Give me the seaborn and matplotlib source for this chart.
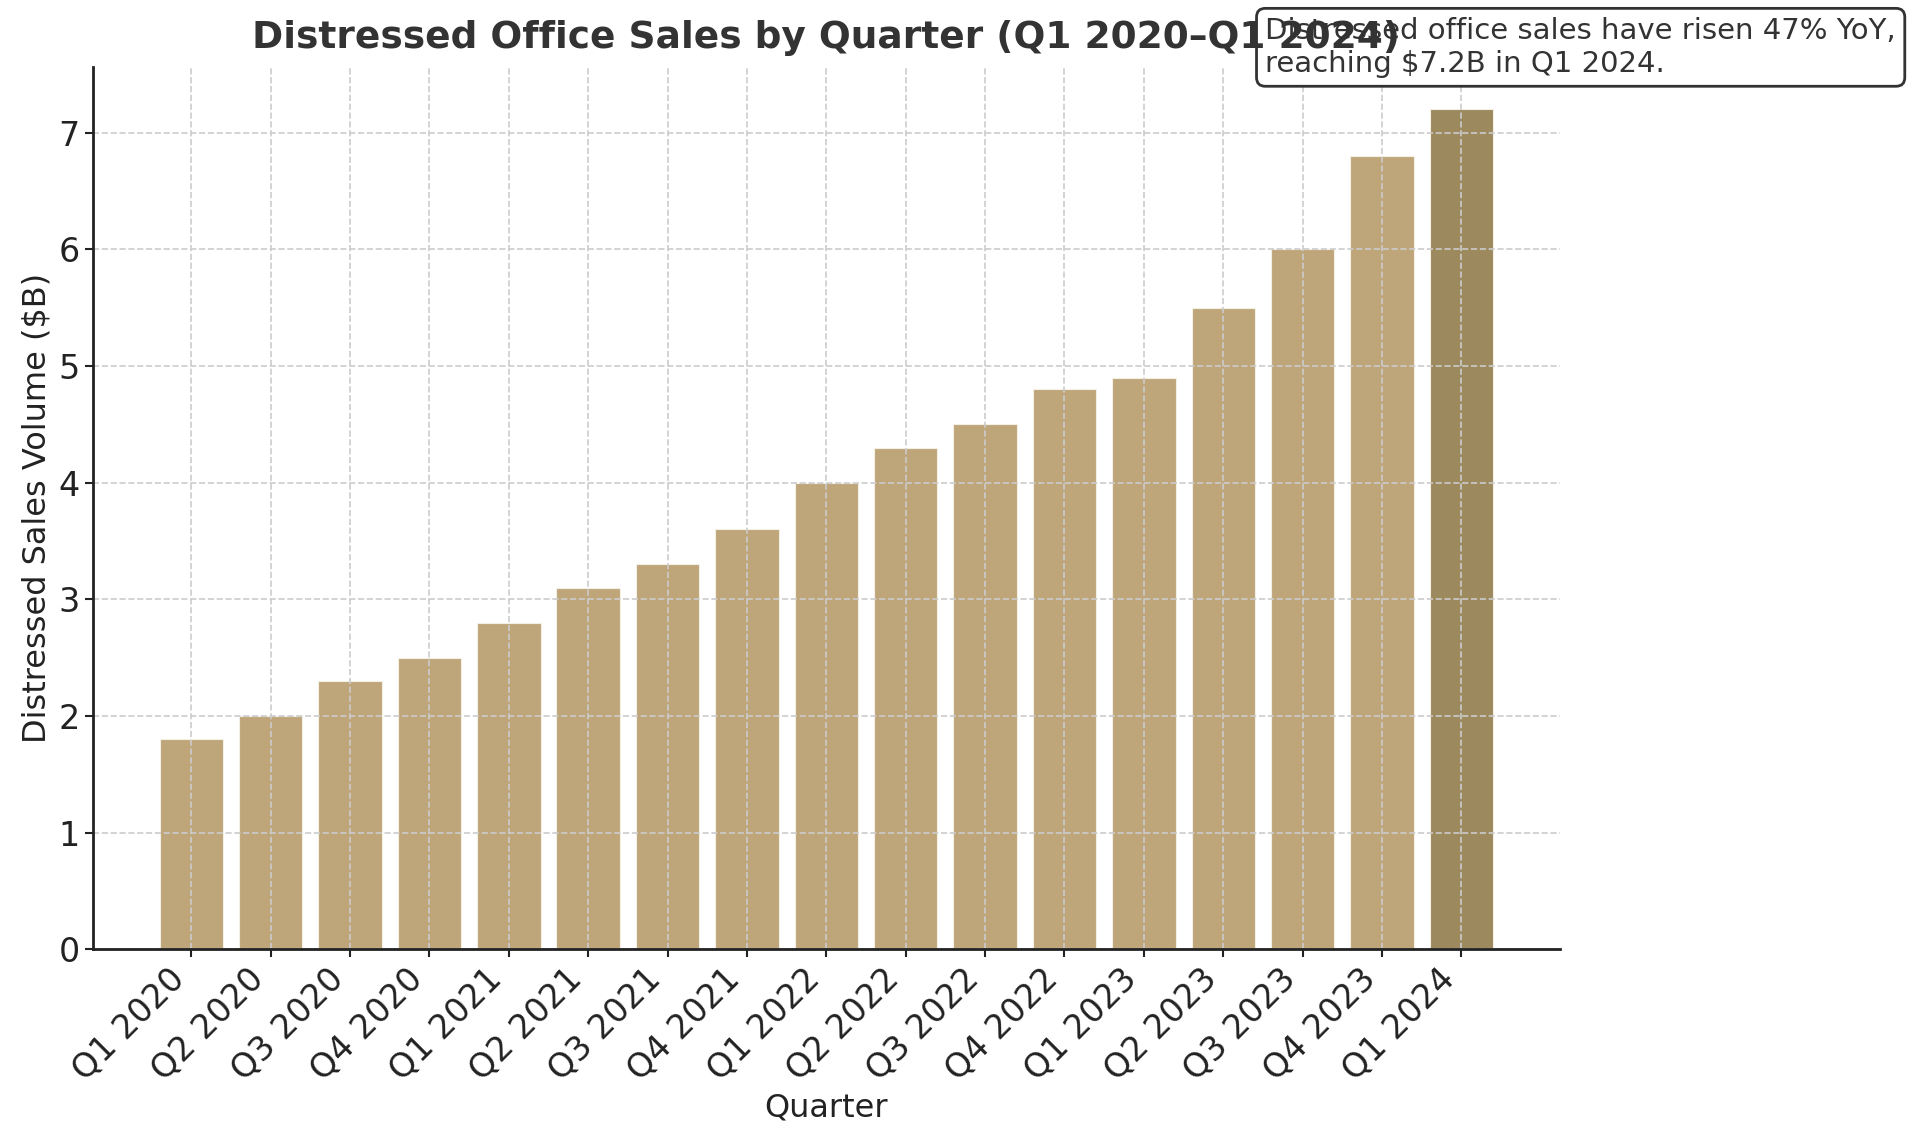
import pandas as pd
import seaborn as sns
import matplotlib.pyplot as plt

QUARTERS = ['Q1 2020', 'Q2 2020', 'Q3 2020', 'Q4 2020',
            'Q1 2021', 'Q2 2021', 'Q3 2021', 'Q4 2021',
            'Q1 2022', 'Q2 2022', 'Q3 2022', 'Q4 2022',
            'Q1 2023', 'Q2 2023', 'Q3 2023', 'Q4 2023', 'Q1 2024']
VOLUMES = [1.8, 2.0, 2.3, 2.5, 2.8, 3.1, 3.3, 3.6,
           4.0, 4.3, 4.5, 4.8, 4.9, 5.5, 6.0, 6.8, 7.2]

BAR_COLOR = '#BFA67A'
LAST_COLOR = '#9C8A5E'


def main():
    sns.set_style("ticks")
    plt.rcParams['font.family'] = ['DejaVu Sans']

    df = pd.DataFrame({'Quarter': QUARTERS, 'Volume': VOLUMES})
    palette = {q: BAR_COLOR for q in QUARTERS}
    palette[QUARTERS[-1]] = LAST_COLOR

    fig = plt.figure(figsize=(19.2, 11.41), dpi=100)
    ax = fig.add_axes([0.0484, 0.168, 0.764, 0.773])

    sns.barplot(data=df, x='Quarter', y='Volume', hue='Quarter',
                palette=palette, legend=False, width=0.8, ax=ax,
                saturation=1, edgecolor='#f4efe4', linewidth=0.8)
    ax.set_xlim(-1.24, len(QUARTERS) - 1 + 1.24)
    ax.set_ylim(0, 7.56)

    # dashed grid drawn over the bars, like the original
    ax.grid(True, linestyle='--', color='#cccccc', linewidth=1.2)
    ax.set_axisbelow(False)
    sns.despine(ax=ax)
    for s in ['left', 'bottom']:
        ax.spines[s].set_linewidth(2)
        ax.spines[s].set_color('#222222')
        ax.spines[s].set_zorder(4)

    ax.tick_params(axis='both', labelsize=24, colors='#222222', width=1.5, length=6)
    plt.setp(ax.get_xticklabels(), rotation=45, ha='right')

    ax.set_xlabel('Quarter', fontsize=23, color='#222222')
    ax.set_ylabel('Distressed Sales Volume ($B)', fontsize=23, color='#222222')
    ax.set_title('Distressed Office Sales by Quarter (Q1 2020\u2013Q1 2024)',
                 fontsize=27, fontweight='bold', color='#333333', pad=14, zorder=5)

    # note box sits under the title, so the title shows through it
    ax.text(0.659, 0.985,
            'Distressed office sales have risen 47% YoY,\nreaching $7.2B in Q1 2024.',
            transform=fig.transFigure, clip_on=False, zorder=4.5,
            fontsize=21, color='#333333', va='top', ha='left',
            bbox=dict(boxstyle='round,pad=0.3', facecolor='white',
                      edgecolor='#333333', linewidth=2))

    fig.savefig('out.png', dpi=100)


main()
